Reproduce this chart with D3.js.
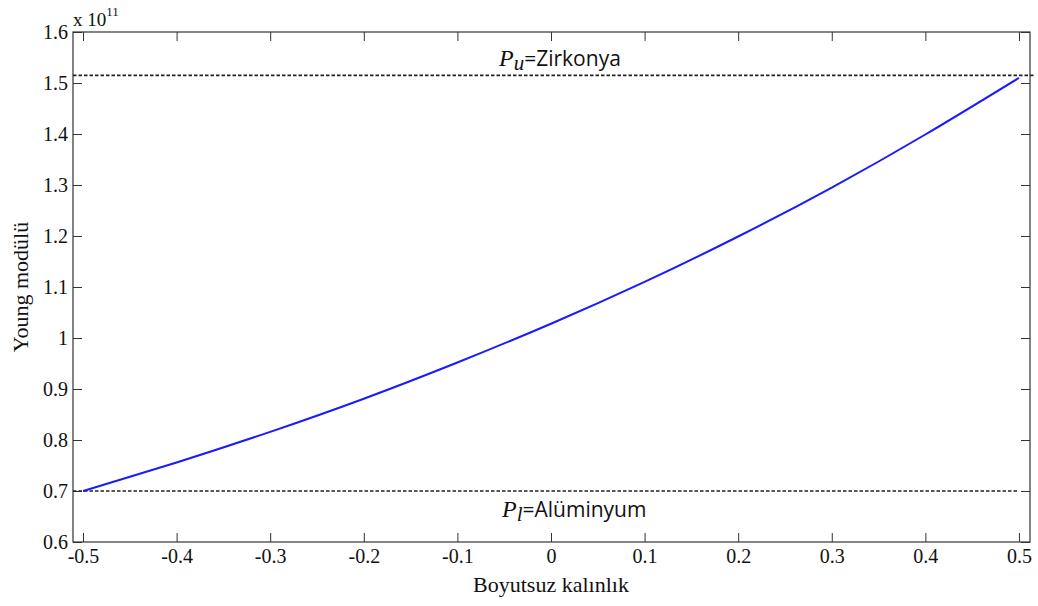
<!DOCTYPE html>
<html>
<head>
<meta charset="utf-8">
<script src="https://cdn.jsdelivr.net/npm/d3@7"></script>
<style>
  body { margin: 0; background: #fff; }
  text { fill: #111; }
</style>
</head>
<body>
<div id="chart"></div>
<script>
// thickness coordinate and Young's modulus (x 1e11)
const thickness = [-0.5, -0.4, -0.3, -0.2, -0.1, 0, 0.1, 0.2, 0.3, 0.4, 0.5];
const youngModulus = [0.700, 0.756, 0.816, 0.881, 0.952, 1.028, 1.110, 1.199, 1.295, 1.399, 1.510];

// bounding material values (x 1e11)
const upperValue = 1.515;  // Zirkonya
const lowerValue = 0.700;  // Alüminyum

const xTicks = [-0.5, -0.4, -0.3, -0.2, -0.1, 0, 0.1, 0.2, 0.3, 0.4, 0.5];
const yTicks = [0.6, 0.7, 0.8, 0.9, 1, 1.1, 1.2, 1.3, 1.4, 1.5, 1.6];

const width = 1038;
const height = 606;
const margin = { top: 32, right: 8, bottom: 64, left: 73 };
const iw = width - margin.left - margin.right;
const ih = height - margin.top - margin.bottom;

const svg = d3.select("#chart")
    .append("svg")
    .attr("width", width)
    .attr("height", height);

const g = svg.append("g")
    .attr("transform", `translate(${margin.left},${margin.top})`);

const x = d3.scaleLinear().domain([-0.5107, 0.5118]).range([0, iw]);
const y = d3.scaleLinear().domain([0.6, 1.6]).range([ih, 0]);

const serif = "'Liberation Serif', 'Times New Roman', serif";
const tickLen = 9;

// plain hyphen for negatives, like the original
const fmt = d => String(+d.toFixed(2));
const axisStyle = sel => {
    sel.select(".domain").remove();
    sel.selectAll("line").attr("stroke", "#333").attr("stroke-width", 1);
    sel.selectAll("text")
        .style("font-family", serif)
        .style("font-size", "20px")
        .attr("fill", "#111");
};

g.append("g")
    .attr("transform", `translate(0,${ih})`)
    .call(d3.axisBottom(x).tickValues(xTicks).tickSizeInner(-tickLen).tickSizeOuter(0).tickPadding(7).tickFormat(fmt))
    .call(axisStyle);

g.append("g")
    .call(d3.axisTop(x).tickValues(xTicks).tickSizeInner(-tickLen).tickSizeOuter(0).tickFormat(""))
    .call(axisStyle);

g.append("g")
    .call(d3.axisLeft(y).tickValues(yTicks).tickSizeInner(-tickLen).tickSizeOuter(0).tickPadding(5).tickFormat(fmt))
    .call(axisStyle);

g.append("g")
    .attr("transform", `translate(${iw},0)`)
    .call(d3.axisRight(y).tickValues(yTicks).tickSizeInner(-tickLen).tickSizeOuter(0).tickFormat(""))
    .call(axisStyle);

// box
g.append("rect")
    .attr("width", iw)
    .attr("height", ih)
    .attr("fill", "none")
    .attr("stroke", "#333")
    .attr("stroke-width", 1.2);

// dashed reference lines
const refs = [
    { v: upperValue, x0: x.domain()[0], x1: 0.517 },
    { v: lowerValue, x0: x.domain()[0], x1: 0.5 }
];
g.append("g")
    .selectAll("line")
    .data(refs)
    .join("line")
    .attr("x1", d => x(d.x0))
    .attr("x2", d => x(d.x1))
    .attr("y1", d => y(d.v))
    .attr("y2", d => y(d.v))
    .attr("stroke", "#222")
    .attr("stroke-width", 1.6)
    .attr("stroke-dasharray", "3.5,2");

// modulus curve
const line = d3.line()
    .x((d, i) => x(thickness[i]))
    .y(d => y(d))
    .curve(d3.curveNatural);

g.append("path")
    .datum(youngModulus)
    .attr("d", line)
    .attr("fill", "none")
    .attr("stroke", "#1a1aff")
    .attr("stroke-width", 2);

// exponent label
const expo = svg.append("text")
    .attr("x", margin.left)
    .attr("y", 26)
    .style("font-family", serif)
    .style("font-size", "19px");
expo.append("tspan").text("x 10");
expo.append("tspan").attr("dy", -10).style("font-size", "13px").text("11");

// annotations
const sans = "'Open Sans', 'Liberation Sans', sans-serif";
function annot(xPos, yPos, sub, label) {
    const t = svg.append("text")
        .attr("x", xPos)
        .attr("y", yPos)
        .style("font-size", "21px");
    t.append("tspan").style("font-family", serif).style("font-style", "italic").style("font-size", "24px").text("P");
    t.append("tspan").attr("dy", 4).style("font-family", serif).style("font-style", "italic").style("font-size", "21px").text(sub);
    t.append("tspan").attr("dy", -4).style("font-family", sans).text("=" + label);
}
annot(499, y(upperValue) + margin.top - 9, "u", "Zirkonya");
annot(502, y(lowerValue) + margin.top + 26, "l", "Alüminyum");

// axis titles
svg.append("text")
    .attr("x", margin.left + x(0))
    .attr("y", 592)
    .attr("text-anchor", "middle")
    .style("font-family", serif)
    .style("font-size", "22px")
    .text("Boyutsuz kalınlık");

svg.append("text")
    .attr("transform", `translate(28,${margin.top + ih / 2}) rotate(-90)`)
    .attr("text-anchor", "middle")
    .style("font-family", serif)
    .style("font-size", "22px")
    .text("Young modülü");
</script>
</body>
</html>
